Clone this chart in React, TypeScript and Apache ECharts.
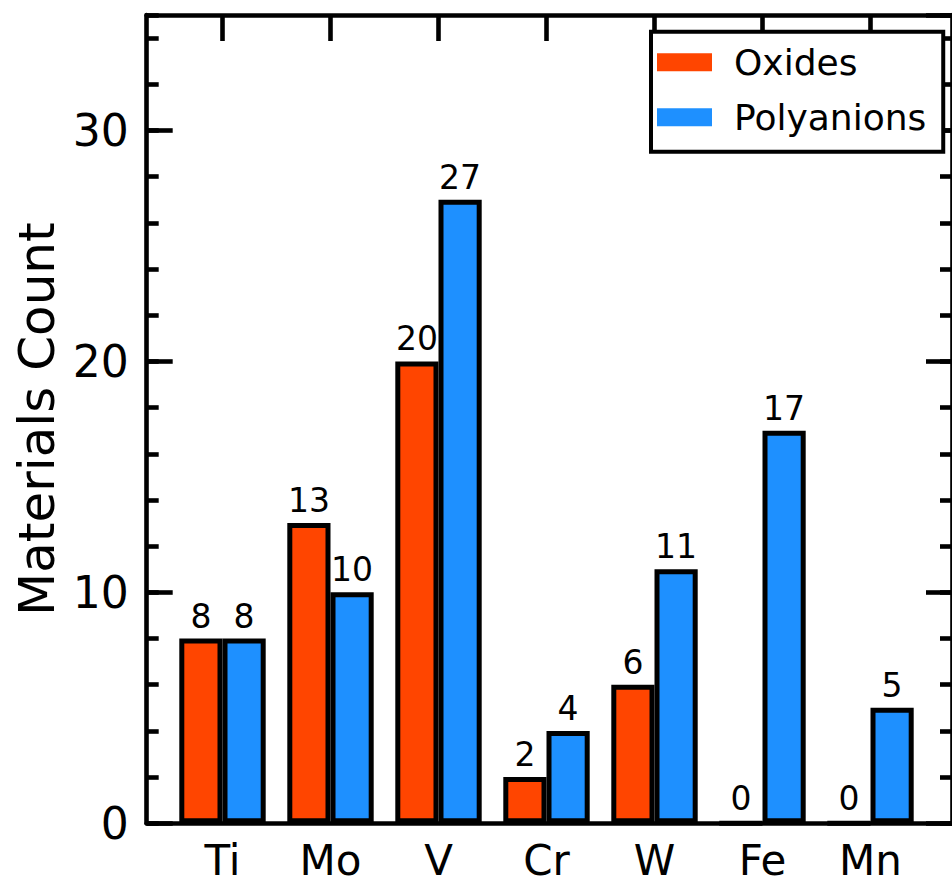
import React, { useEffect, useRef } from "react";
import * as echarts from "echarts";

const categories = ["Ti", "Mo", "V", "Cr", "W", "Fe", "Mn"];
const oxides = [8, 13, 20, 2, 6, 0, 0];
const polyanions = [8, 10, 27, 4, 11, 17, 5];
const yMin = 0;
const yMax = 35;

const FONT = "DejaVu Sans";
const LW = 4.6;

export default function App() {
  const ref = useRef<HTMLDivElement>(null);
  useEffect(() => {
    if (!ref.current) return;
    const chart = echarts.init(ref.current, null, { renderer: "svg" });
    const top = 15;
    const bottom = 884 - 823.3;
    const barLabel = {
      show: true,
      position: "top" as const,
      distance: 6,
      fontSize: 33,
      color: "#000",
      fontFamily: FONT,
    };
    const majorY = (pos: "left" | "right", labels: boolean) => ({
      type: "value",
      gridIndex: 1,
      position: pos,
      min: yMin,
      max: yMax,
      interval: 10,
      axisLine: { show: true, onZero: false, lineStyle: { color: "#000", width: LW } },
      axisTick: { show: true, inside: true, length: 26, lineStyle: { color: "#000", width: LW } },
      axisLabel: labels
        ? { show: true, showMaxLabel: false, fontSize: 44, color: "#000", fontFamily: FONT, margin: 18 }
        : { show: false },
      splitLine: { show: false },
    });
    const minorY = (pos: "left" | "right") => ({
      type: "value",
      gridIndex: 1,
      position: pos,
      min: yMin,
      max: yMax,
      interval: 2,
      axisLine: { show: false, onZero: false },
      axisTick: { show: true, inside: true, length: 12, lineStyle: { color: "#000", width: LW } },
      axisLabel: { show: false },
      splitLine: { show: false },
    });
    const frameX = (pos: "top" | "bottom") => ({
      type: "value",
      gridIndex: 1,
      position: pos,
      min: 0,
      max: 1,
      axisLine: { show: true, onZero: false, lineStyle: { color: "#000", width: LW } },
      axisTick: { show: false },
      axisLabel: { show: false },
      splitLine: { show: false },
    });
    const leftMajor: any = majorY("left", true);
    leftMajor.name = "Materials Count";
    leftMajor.nameLocation = "middle";
    leftMajor.nameGap = 84;
    leftMajor.nameTextStyle = { fontSize: 50, color: "#000", fontFamily: FONT };

    chart.setOption({
      animation: false,
      backgroundColor: "#fff",
      grid: [
        { left: 168.5, right: 27.5, top, bottom },
        { left: 146.7, right: -5, top, bottom },
      ],
      legend: {
        orient: "vertical",
        left: 651,
        top: 31.7,
        padding: [12, 17, 16, 6],
        itemGap: 18,
        itemWidth: 55,
        itemHeight: 18,
        icon: "rect",
        borderColor: "#000",
        borderWidth: 4,
        borderRadius: 0,
        backgroundColor: "#fff",
        itemStyle: { borderWidth: 0 },
        textStyle: {
          fontSize: 36,
          lineHeight: 37,
          color: "#000",
          fontFamily: FONT,
          padding: [0, 0, 0, 17],
        },
        data: ["Oxides", "Polyanions"],
      },
      xAxis: [
        {
          type: "category",
          gridIndex: 0,
          position: "bottom",
          data: categories,
          axisLine: { show: false, onZero: false },
          axisTick: { show: false },
          axisLabel: { fontSize: 42, color: "#000", fontFamily: FONT, margin: 16 },
          splitLine: { show: false },
        },
        {
          type: "category",
          gridIndex: 0,
          position: "top",
          data: categories,
          axisLine: { show: false, onZero: false },
          axisTick: {
            show: true,
            inside: true,
            length: 26,
            alignWithLabel: true,
            lineStyle: { color: "#000", width: LW },
          },
          axisLabel: { show: false },
          splitLine: { show: false },
        },
        frameX("bottom"),
        frameX("top"),
      ],
      yAxis: [
        {
          type: "value",
          gridIndex: 0,
          min: yMin,
          max: yMax,
          show: false,
          axisLine: { onZero: false },
          splitLine: { show: false },
        },
        leftMajor,
        minorY("left"),
        majorY("right", false),
        minorY("right"),
      ],
      series: [
        {
          name: "Oxides",
          type: "bar",
          xAxisIndex: 0,
          yAxisIndex: 0,
          data: oxides,
          barWidth: 43.2,
          barGap: "0%",
          itemStyle: { color: "#FF4500", borderColor: "#000", borderWidth: 5 },
          label: barLabel,
          z: 3,
        },
        {
          name: "Polyanions",
          type: "bar",
          xAxisIndex: 0,
          yAxisIndex: 0,
          data: polyanions,
          barWidth: 43.2,
          barGap: "0%",
          itemStyle: { color: "#1E90FF", borderColor: "#000", borderWidth: 5 },
          label: barLabel,
          z: 3,
        },
      ],
    });
    return () => chart.dispose();
  }, []);
  return (
    <div
      ref={ref}
      style={{ position: "fixed", left: 0, top: 0, width: 952, height: 884, background: "#fff" }}
    />
  );
}
